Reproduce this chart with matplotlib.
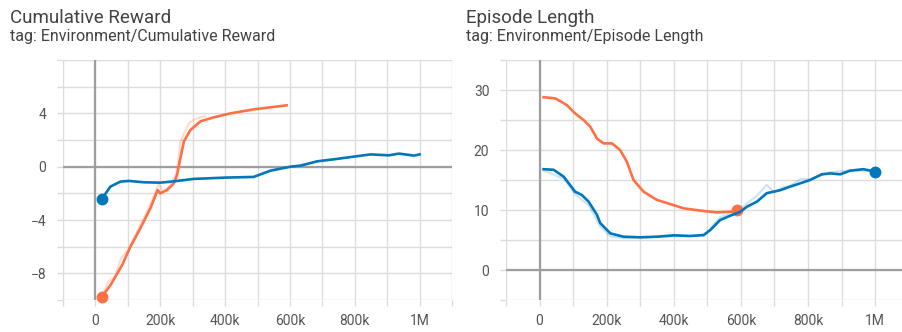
import matplotlib
matplotlib.use("Agg")
from matplotlib import pyplot as plt
from matplotlib.ticker import MultipleLocator, FuncFormatter

plt.rcParams['font.family'] = ['Roboto', 'DejaVu Sans']

BLUE = '#0077bb'
ORANGE = '#ff7043'

# Cumulative Reward - smoothed runs
reward_blue_steps = [20e3, 46e3, 77e3, 103e3, 149e3, 200e3, 242e3, 303e3, 401e3, 488e3,
                     540e3, 602e3, 633e3, 684e3, 735e3, 787e3, 849e3, 905e3, 936e3, 983e3, 1000e3]
reward_blue = [-2.42, -1.5, -1.12, -1.07, -1.17, -1.2, -1.1, -0.92, -0.82, -0.77,
               -0.3, 0.0, 0.08, 0.4, 0.55, 0.72, 0.92, 0.85, 0.98, 0.83, 0.92]

reward_orange_steps = [20e3, 46e3, 82e3, 108e3, 139e3, 170e3, 192e3, 200e3, 221e3, 242e3,
                       252e3, 260e3, 273e3, 293e3, 324e3, 365e3, 417e3, 489e3, 540e3, 590e3]
reward_orange = [-9.75, -8.9, -7.4, -6.0, -4.6, -3.1, -1.75, -2.0, -1.75, -1.25,
                 -0.6, 0.4, 1.9, 2.75, 3.4, 3.7, 4.0, 4.3, 4.45, 4.6]

# raw (unsmoothed) values that show as a faint trace
reward_orange_raw_steps = [20e3, 40e3, 60e3, 80e3, 100e3, 120e3, 140e3, 160e3, 180e3, 195e3,
                           210e3, 230e3, 250e3, 262e3, 275e3, 290e3, 310e3, 340e3]
reward_orange_raw = [-9.7, -8.6, -8.3, -6.8, -6.3, -5.3, -4.3, -3.3, -2.2, -1.3,
                     -1.9, -1.4, -0.5, 1.8, 2.6, 3.3, 3.6, 3.8]

# Episode Length - smoothed runs
length_blue_steps = [12e3, 42e3, 72e3, 106e3, 126e3, 146e3, 171e3, 181e3, 211e3, 250e3,
                     300e3, 350e3, 400e3, 449e3, 489e3, 509e3, 538e3, 568e3, 598e3, 618e3,
                     648e3, 677e3, 717e3, 747e3, 777e3, 806e3, 841e3, 866e3, 896e3, 925e3,
                     965e3, 1000e3]
length_blue = [16.8, 16.7, 15.55, 13.05, 12.5, 11.4, 9.2, 7.8, 6.1, 5.55,
               5.45, 5.55, 5.78, 5.67, 5.83, 6.67, 8.33, 9.05, 9.7, 10.55,
               11.4, 12.8, 13.3, 13.9, 14.45, 15.0, 15.95, 16.1, 15.95, 16.55,
               16.8, 16.4]

length_orange_steps = [12e3, 47e3, 81e3, 106e3, 131e3, 151e3, 171e3, 191e3, 216e3, 240e3,
                       260e3, 280e3, 310e3, 350e3, 389e3, 429e3, 479e3, 528e3, 578e3, 588e3]
length_orange = [28.8, 28.6, 27.5, 26.1, 25.0, 23.9, 21.9, 21.1, 21.1, 20.0,
                 18.05, 15.0, 13.05, 11.67, 11.0, 10.28, 9.9, 9.6, 9.75, 10.0]

length_blue_raw_steps = [12e3, 72e3, 106e3, 146e3, 181e3, 211e3, 250e3, 300e3, 400e3, 489e3,
                         538e3, 598e3, 648e3, 677e3, 700e3, 717e3, 747e3, 779e3, 806e3,
                         866e3, 925e3, 1000e3]
length_blue_raw = [16.6, 15.2, 12.6, 10.8, 7.2, 5.6, 5.3, 5.4, 5.6, 5.7,
                   8.8, 10.2, 12.4, 14.2, 12.9, 13.6, 14.1, 15.2, 15.1,
                   16.3, 16.6, 16.4]

xticks = [0, 200e3, 400e3, 600e3, 800e3, 1e6]
reward_yticks = [-8, -4, 0, 4]
length_yticks = [0, 10, 20, 30]

GRID = '#dcdcdc'


def fmt_steps(v, pos):
    if abs(v) < 1:
        return '0'
    if v >= 1e6:
        return '%gM' % (v / 1e6)
    return '%dk' % round(v / 1e3)


def style_axes(ax, xlim, ylim, yticks, minor_y):
    ax.set_xlim(*xlim)
    ax.set_ylim(*ylim)
    ax.set_xticks(xticks)
    ax.set_yticks(yticks)
    ax.xaxis.set_minor_locator(MultipleLocator(100e3))
    ax.yaxis.set_minor_locator(MultipleLocator(minor_y))
    ax.xaxis.set_major_formatter(FuncFormatter(fmt_steps))
    ax.grid(True, which='both', color=GRID, linewidth=1.0, zorder=0)
    ax.axhline(0, color='#9e9e9e', linewidth=1.6, zorder=1)
    ax.axvline(0, color='#9e9e9e', linewidth=1.6, zorder=1)
    for s in ax.spines.values():
        s.set_visible(False)
    ax.tick_params(which='both', length=4, width=1.0, color=GRID, direction='out',
                   labelsize=10, labelcolor='#555555')
    ax.tick_params(axis='x', which='major', pad=6)
    ax.tick_params(axis='y', which='major', pad=8)
    ax.set_axisbelow(True)


fig = plt.figure(figsize=(9.02, 3.32), dpi=100)
W, H = 902.0, 332.0

ax1 = fig.add_axes([63 / W, 32 / H, 389 / W, 240 / H])
ax2 = fig.add_axes([506 / W, 32 / H, 396 / W, 240 / H])

style_axes(ax1, (-100e3, 1.1e6), (-10, 8), reward_yticks, 2)
style_axes(ax2, (-100e3, 1.08e6), (-5, 35), length_yticks, 5)

# left: cumulative reward
ax1.plot(reward_orange_raw_steps, reward_orange_raw, color=ORANGE, alpha=0.25, lw=1.5, zorder=2)
ax1.plot(reward_orange_steps, reward_orange, color=ORANGE, lw=1.9, zorder=3)
ax1.plot(reward_blue_steps, reward_blue, color=BLUE, lw=1.9, zorder=4)
ax1.plot(reward_orange_steps[0], reward_orange[0], 'o', color=ORANGE, ms=7.5, zorder=5, clip_on=False)
ax1.plot(reward_blue_steps[0], reward_blue[0], 'o', color=BLUE, ms=7.5, zorder=5)

# right: episode length
ax2.plot(length_blue_raw_steps, length_blue_raw, color=BLUE, alpha=0.2, lw=1.5, zorder=2)
ax2.plot(length_orange_steps, length_orange, color=ORANGE, lw=1.9, zorder=3)
ax2.plot(length_orange_steps[-1], length_orange[-1], 'o', color=ORANGE, ms=7.5, zorder=3)
ax2.plot(length_blue_steps, length_blue, color=BLUE, lw=1.9, zorder=4)
ax2.plot(length_blue_steps[-1], length_blue[-1], 'o', color=BLUE, ms=7.5, zorder=5)

# titles
fig.text(10 / W, 1 - 23 / H, 'Cumulative Reward', fontsize=13.5, color='#424242', va='baseline')
fig.text(10 / W, 1 - 41 / H, 'tag: Environment/Cumulative Reward', fontsize=11.5, color='#424242', va='baseline')
fig.text(466 / W, 1 - 23 / H, 'Episode Length', fontsize=13.5, color='#424242', va='baseline')
fig.text(466 / W, 1 - 41 / H, 'tag: Environment/Episode Length', fontsize=11.5, color='#424242', va='baseline')

plt.savefig('out.png', dpi=100)
